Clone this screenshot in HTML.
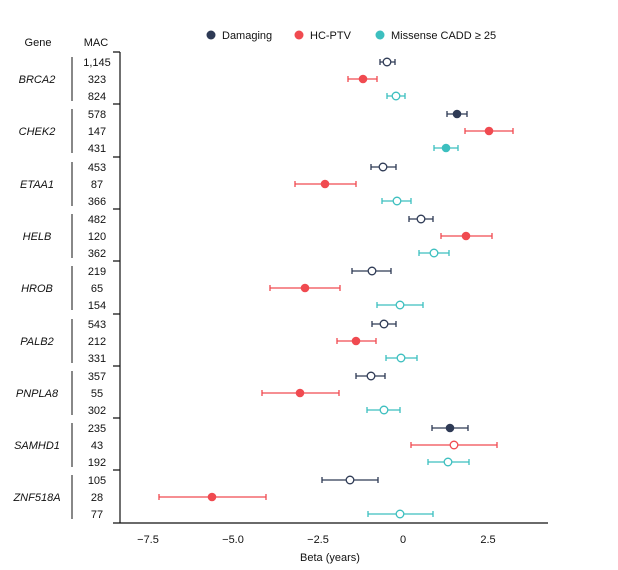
<!DOCTYPE html>
<html><head><style>body{margin:0;background:#fff}svg{display:block}text{font-family:"Liberation Sans",Arial,sans-serif;font-size:11px;fill:#111}.d{stroke:#2e3a55}.h{stroke:#f04a50}.m{stroke:#3cbfbf}path{stroke-width:1.3;fill:none}.o{fill:#fff;stroke-width:1.3}.gl{stroke:#111;stroke-width:1}</style></head><body>
<svg width="618" height="570" xmlns="http://www.w3.org/2000/svg">
<circle cx="211" cy="35" r="4.5" fill="#2e3a55"/><text x="222" y="39">Damaging</text>
<circle cx="299" cy="35" r="4.5" fill="#f04a50"/><text x="310" y="39">HC-PTV</text>
<circle cx="380" cy="35" r="4.5" fill="#3cbfbf"/><text x="391" y="39">Missense CADD ≥ 25</text>
<text x="38" y="46" text-anchor="middle">Gene</text>
<text x="96" y="46" text-anchor="middle">MAC</text>
<line x1="120" y1="52" x2="120" y2="523" stroke="#111" stroke-width="1.2"/>
<line x1="113" y1="523" x2="548" y2="523" stroke="#111" stroke-width="1.2"/>
<path d="M113 52H120M113 104H120M113 157H120M113 209H120M113 261H120M113 314H120M113 366H120M113 418H120M113 470H120" stroke="#111" stroke-width="1.2"/>
<text x="148" y="543" text-anchor="middle">−7.5</text>
<text x="233" y="543" text-anchor="middle">−5.0</text>
<text x="318" y="543" text-anchor="middle">−2.5</text>
<text x="403" y="543" text-anchor="middle">0</text>
<text x="488" y="543" text-anchor="middle">2.5</text>
<text x="330" y="561" text-anchor="middle">Beta (years)</text>

<g font-style="italic" text-anchor="middle">
<text x="37" y="83" font-style="italic">BRCA2</text>
<text x="37" y="135" font-style="italic">CHEK2</text>
<text x="37" y="188" font-style="italic">ETAA1</text>
<text x="37" y="240" font-style="italic">HELB</text>
<text x="37" y="292" font-style="italic">HROB</text>
<text x="37" y="345" font-style="italic">PALB2</text>
<text x="37" y="397" font-style="italic">PNPLA8</text>
<text x="37" y="449" font-style="italic">SAMHD1</text>
<text x="37" y="501" font-style="italic">ZNF518A</text>
</g>
<path class="gl" d="M72 57V101M72 109V153M72 162V206M72 214V258M72 266V310M72 319V363M72 371V415M72 423V467M72 475V519"/>
<g text-anchor="middle">
<text x="97" y="66">1,145</text><text x="97" y="83">323</text><text x="97" y="100">824</text>
<text x="97" y="118">578</text><text x="97" y="135">147</text><text x="97" y="152">431</text>
<text x="97" y="171">453</text><text x="97" y="188">87</text><text x="97" y="205">366</text>
<text x="97" y="223">482</text><text x="97" y="240">120</text><text x="97" y="257">362</text>
<text x="97" y="275">219</text><text x="97" y="292">65</text><text x="97" y="309">154</text>
<text x="97" y="328">543</text><text x="97" y="345">212</text><text x="97" y="362">331</text>
<text x="97" y="380">357</text><text x="97" y="397">55</text><text x="97" y="414">302</text>
<text x="97" y="432">235</text><text x="97" y="449">43</text><text x="97" y="466">192</text>
<text x="97" y="484">105</text><text x="97" y="501">28</text><text x="97" y="518">77</text>
</g>

<!-- BRCA2 -->
<path class="d" d="M380 62H395M380 59V65M395 59V65"/><circle class="o d" cx="387" cy="62" r="3.8"/>
<path class="h" d="M348 79H377M348 76V82M377 76V82"/><circle cx="363" cy="79" r="4.3" fill="#f04a50"/>
<path class="m" d="M387 96H405M387 93V99M405 93V99"/><circle class="o m" cx="396" cy="96" r="3.8"/>
<!-- CHEK2 -->
<path class="d" d="M447 114H467M447 111V117M467 111V117"/><circle cx="457" cy="114" r="4.3" fill="#2e3a55"/>
<path class="h" d="M465 131H513M465 128V134M513 128V134"/><circle cx="489" cy="131" r="4.3" fill="#f04a50"/>
<path class="m" d="M434 148H458M434 145V151M458 145V151"/><circle cx="446" cy="148" r="4.3" fill="#3cbfbf"/>
<!-- ETAA1 -->
<path class="d" d="M371 167H396M371 164V170M396 164V170"/><circle class="o d" cx="383" cy="167" r="3.8"/>
<path class="h" d="M295 184H356M295 181V187M356 181V187"/><circle cx="325" cy="184" r="4.3" fill="#f04a50"/>
<path class="m" d="M382 201H411M382 198V204M411 198V204"/><circle class="o m" cx="397" cy="201" r="3.8"/>
<!-- HELB -->
<path class="d" d="M409 219H433M409 216V222M433 216V222"/><circle class="o d" cx="421" cy="219" r="3.8"/>
<path class="h" d="M441 236H492M441 233V239M492 233V239"/><circle cx="466" cy="236" r="4.3" fill="#f04a50"/>
<path class="m" d="M419 253H449M419 250V256M449 250V256"/><circle class="o m" cx="434" cy="253" r="3.8"/>
<!-- HROB -->
<path class="d" d="M352 271H391M352 268V274M391 268V274"/><circle class="o d" cx="372" cy="271" r="3.8"/>
<path class="h" d="M270 288H340M270 285V291M340 285V291"/><circle cx="305" cy="288" r="4.3" fill="#f04a50"/>
<path class="m" d="M377 305H423M377 302V308M423 302V308"/><circle class="o m" cx="400" cy="305" r="3.8"/>
<!-- PALB2 -->
<path class="d" d="M372 324H396M372 321V327M396 321V327"/><circle class="o d" cx="384" cy="324" r="3.8"/>
<path class="h" d="M337 341H376M337 338V344M376 338V344"/><circle cx="356" cy="341" r="4.3" fill="#f04a50"/>
<path class="m" d="M386 358H417M386 355V361M417 355V361"/><circle class="o m" cx="401" cy="358" r="3.8"/>
<!-- PNPLA8 -->
<path class="d" d="M356 376H385M356 373V379M385 373V379"/><circle class="o d" cx="371" cy="376" r="3.8"/>
<path class="h" d="M262 393H339M262 390V396M339 390V396"/><circle cx="300" cy="393" r="4.3" fill="#f04a50"/>
<path class="m" d="M367 410H400M367 407V413M400 407V413"/><circle class="o m" cx="384" cy="410" r="3.8"/>
<!-- SAMHD1 -->
<path class="d" d="M432 428H468M432 425V431M468 425V431"/><circle cx="450" cy="428" r="4.3" fill="#2e3a55"/>
<path class="h" d="M411 445H497M411 442V448M497 442V448"/><circle class="o h" cx="454" cy="445" r="3.8"/>
<path class="m" d="M428 462H469M428 459V465M469 459V465"/><circle class="o m" cx="448" cy="462" r="3.8"/>
<!-- ZNF518A -->
<path class="d" d="M322 480H378M322 477V483M378 477V483"/><circle class="o d" cx="350" cy="480" r="3.8"/>
<path class="h" d="M159 497H266M159 494V500M266 494V500"/><circle cx="212" cy="497" r="4.3" fill="#f04a50"/>
<path class="m" d="M368 514H433M368 511V517M433 511V517"/><circle class="o m" cx="400" cy="514" r="3.8"/>
</svg>
</body></html>
